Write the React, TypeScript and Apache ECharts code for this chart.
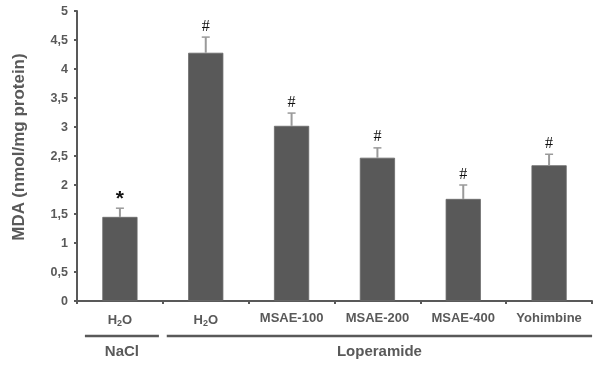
import React, { useEffect, useRef } from "react";
import * as echarts from "echarts";

const categories = ["H2O_NaCl", "H2O", "MSAE-100", "MSAE-200", "MSAE-400", "Yohimbine"];
const values = [1.45, 4.28, 3.02, 2.47, 1.76, 2.34];
const errors = [0.15, 0.27, 0.22, 0.17, 0.24, 0.19];
const marks = ["*", "#", "#", "#", "#", "#"];
const groups = [
  { name: "NaCl", from: 0, to: 0 },
  { name: "Loperamide", from: 1, to: 5 },
];

const FONT = "Liberation Sans, Arial, sans-serif";
const GREY = "#595959";

export default function App() {
  const ref = useRef<HTMLDivElement>(null);
  useEffect(() => {
    if (!ref.current) return;
    const chart = echarts.init(ref.current, null, { renderer: "svg" });
    const option: any = {
      animation: false,
      grid: { left: 77, right: 8, top: 11, bottom: 76, containLabel: false },
      xAxis: {
        type: "category",
        data: categories,
        axisLine: { lineStyle: { color: GREY, width: 2 } },
        axisTick: { show: true, alignWithLabel: false, length: 3, lineStyle: { color: GREY, width: 2 } },
        axisLabel: {
          interval: 0,
          margin: 10,
          fontFamily: FONT,
          fontSize: 13,
          fontWeight: "bold",
          color: GREY,
          formatter: (v: string) => (v.startsWith("H2O") ? "{n|H}{s|2}{n|O}" : v),
          rich: {
            n: { fontFamily: FONT, fontSize: 13, color: GREY, fontWeight: "bold" },
            s: { fontFamily: FONT, fontSize: 9, color: GREY, fontWeight: "bold", verticalAlign: "bottom", padding: [7, 0, 0, 0] },
          },
        },
      },
      yAxis: {
        type: "value",
        min: 0,
        max: 5,
        interval: 0.5,
        name: "MDA (nmol/mg protein)",
        nameLocation: "middle",
        nameGap: 50,
        nameTextStyle: { fontFamily: FONT, fontSize: 17, fontWeight: "bold", color: GREY, padding: [0, 0, 0, 18] },
        axisLine: { show: true, lineStyle: { color: GREY, width: 2 } },
        axisTick: { show: true, length: 3, lineStyle: { color: GREY, width: 2 } },
        splitLine: { show: false },
        axisLabel: {
          fontFamily: FONT,
          fontSize: 12.5,
          fontWeight: "bold",
          color: GREY,
          margin: 9,
          formatter: (v: number) => String(v).replace(".", ","),
        },
      },
      series: [
        {
          type: "bar",
          data: values,
          barWidth: "41%",
          itemStyle: { color: GREY, borderColor: "#6a6a6a", borderWidth: 0.8 },
          z: 2,
        },
        {
          type: "custom",
          z: 3,
          data: values.map((v, i) => [i, v, errors[i]]),
          renderItem: (params: any, api: any) => {
            const i = api.value(0);
            const v = api.value(1);
            const e = api.value(2);
            const base = api.coord([i, v]);
            const top = api.coord([i, v + e]);
            const isStar = marks[params.dataIndex] === "*";
            return {
              type: "group",
              children: [
                { type: "line", shape: { x1: base[0], y1: base[1], x2: top[0], y2: top[1] }, style: { stroke: "#9a9a9a", lineWidth: 2 } },
                { type: "line", shape: { x1: top[0] - 4, y1: top[1], x2: top[0] + 4, y2: top[1] }, style: { stroke: "#9a9a9a", lineWidth: 1.5 } },
                {
                  type: "text",
                  style: {
                    text: marks[params.dataIndex],
                    x: top[0],
                    y: top[1] - (isStar ? 0 : 4),
                    align: "center",
                    verticalAlign: "bottom",
                    fontFamily: isStar ? FONT : "Liberation Serif, Times New Roman, serif",
                    fontSize: isStar ? 21 : 16,
                    fontWeight: isStar ? "bold" : "normal",
                    fill: "#111",
                  },
                },
              ],
            };
          },
        },
      ],
    };
    chart.setOption(option);

    const lineY = 336;
    const graphics: any[] = [];
    groups.forEach((g, gi) => {
      const a = chart.convertToPixel({ xAxisIndex: 0 }, g.from) as number;
      const b = chart.convertToPixel({ xAxisIndex: 0 }, g.to) as number;
      const half = 43;
      const x1 = a - half + (gi === 0 ? 8 : 4);
      const x2 = b + half - (gi === 0 ? 4 : 0);
      graphics.push({
        type: "line",
        shape: { x1, y1: lineY, x2, y2: lineY },
        style: { stroke: GREY, lineWidth: 2.5 },
      });
      graphics.push({
        type: "text",
        x: (x1 + x2) / 2,
        y: lineY + 7,
        style: {
          text: g.name,
          align: "center",
          verticalAlign: "top",
          fontFamily: FONT,
          fontSize: 15,
          fontWeight: "bold",
          fill: GREY,
        },
      });
    });
    chart.setOption({ graphic: graphics });

    return () => chart.dispose();
  }, []);
  return <div ref={ref} style={{ position: "fixed", left: 0, top: 0, width: 600, height: 377 }} />;
}
